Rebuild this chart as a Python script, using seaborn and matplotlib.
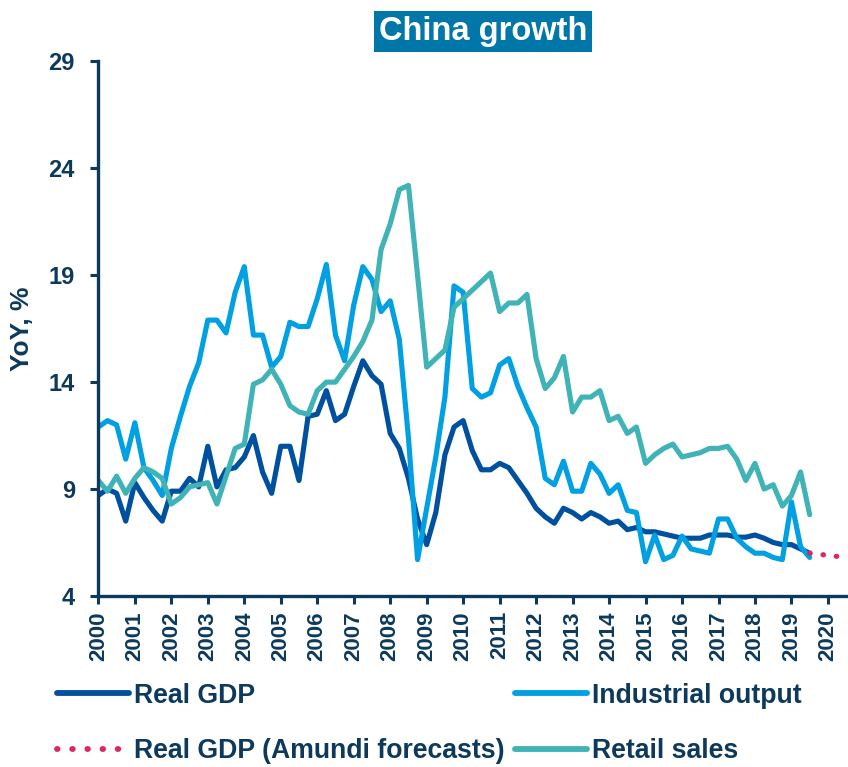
import matplotlib
matplotlib.use('Agg')
import matplotlib.pyplot as plt
import seaborn as sns
from matplotlib.lines import Line2D

# quarterly YoY growth, 2000Q1 .. 2019Q3
gdp = [8.7, 9.0, 8.8, 7.5, 9.3, 8.6, 8.0, 7.5, 8.9, 8.9, 9.5, 9.1,
       11.0, 9.1, 9.9, 10.0, 10.5, 11.5, 9.8, 8.8, 11.0, 11.0, 9.4, 12.4,
       12.5, 13.6, 12.2, 12.5, 13.8, 15.0, 14.3, 13.9, 11.6, 10.9, 9.5, 7.6,
       6.4, 7.9, 10.6, 11.9, 12.2, 10.8, 9.9, 9.9, 10.2, 10.0, 9.4, 8.8,
       8.1, 7.7, 7.4, 8.1, 7.9, 7.6, 7.9, 7.7, 7.4, 7.5, 7.1, 7.2,
       7.0, 7.0, 6.9, 6.8, 6.7, 6.7, 6.7, 6.85, 6.85, 6.85, 6.75, 6.75,
       6.85, 6.7, 6.5, 6.4, 6.4, 6.2, 6.0]
industrial = [11.9, 12.2, 12.0, 10.4, 12.1, 10.0, 9.4, 8.7, 10.9, 12.4, 13.8, 14.9,
              16.9, 16.9, 16.3, 18.2, 19.4, 16.2, 16.2, 14.7, 15.2, 16.8, 16.6, 16.6,
              17.9, 19.5, 16.2, 15.0, 17.6, 19.4, 18.8, 17.3, 17.8, 16.0, 11.4, 5.7,
              8.1, 10.5, 13.3, 18.5, 18.2, 13.7, 13.3, 13.5, 14.8, 15.1, 13.8, 12.8,
              11.9, 9.5, 9.2, 10.3, 8.9, 8.9, 10.2, 9.7, 8.8, 9.2, 8.0, 7.9,
              5.6, 6.85, 5.7, 5.9, 6.8, 6.2, 6.1, 6.0, 7.6, 7.6, 6.7, 6.3,
              6.0, 6.0, 5.8, 5.7, 8.4, 6.3, 5.8]
retail = [9.4, 8.9, 9.6, 8.8, 9.5, 10.0, 9.8, 9.5, 8.3, 8.6, 9.1, 9.2,
          9.3, 8.3, 9.6, 10.9, 11.1, 13.9, 14.1, 14.6, 13.9, 12.9, 12.6, 12.5,
          13.6, 14.0, 14.0, 14.6, 15.2, 15.9, 16.9, 20.2, 21.4, 23.0, 23.2, 19.0,
          14.7, 15.1, 15.5, 17.5, 17.9, 18.3, 18.7, 19.1, 17.3, 17.7, 17.7, 18.1,
          15.1, 13.7, 14.2, 15.2, 12.6, 13.3, 13.3, 13.6, 12.2, 12.4, 11.6, 11.9,
          10.2, 10.6, 10.9, 11.1, 10.5, 10.6, 10.7, 10.9, 10.9, 11.0, 10.4, 9.4,
          10.2, 9.0, 9.2, 8.2, 8.7, 9.8, 7.8]
forecast = [6.0, 5.95, 5.9, 5.85, 5.8, 5.75]
forecast_start = 2019.5
year_ticks = list(range(2000, 2021))
y_ticks = [4, 9, 14, 19, 24, 29]

quarters = [2000 + i / 4 for i in range(len(gdp))]
forecast_q = [forecast_start + i / 4 for i in range(len(forecast))]

navy = '#0D3A5C'
c_gdp = '#0050A0'
c_io = '#00A0E2'
c_retail = '#3FB3B6'
c_fc = '#E0245E'
dotted = (0, (0.1, 2.5))

sns.set_style('white')
plt.rcParams['font.family'] = ['Liberation Sans', 'DejaVu Sans']

fig = plt.figure(figsize=(8.48, 7.67), dpi=100)
ax = fig.add_axes([0.116, 0.223, 0.884, 0.697])

sns.lineplot(x=quarters, y=gdp, color=c_gdp, lw=3.7, ax=ax)
sns.lineplot(x=quarters, y=industrial, color=c_io, lw=3.7, ax=ax)
sns.lineplot(x=quarters, y=retail, color=c_retail, lw=3.7, ax=ax)
sns.lineplot(x=forecast_q, y=forecast, color=c_fc, lw=3.7, linestyle=dotted,
             dash_capstyle='round', ax=ax)

ax.set_xlim(2000, 2020.55)
ax.set_ylim(4, 29)
ax.set_yticks(y_ticks)
ax.set_xticks(year_ticks)
ax.set_xticklabels([str(y) for y in year_ticks], rotation=90)
ax.tick_params(axis='both', colors=navy, width=2.2, length=6, direction='out',
               left=True, bottom=True)
ax.tick_params(axis='y', labelsize=17, pad=11)
ax.tick_params(axis='x', labelsize=16, pad=5)
for lab in ax.get_xticklabels() + ax.get_yticklabels():
    lab.set_fontweight('bold')

for s in ['top', 'right']:
    ax.spines[s].set_visible(False)
for s in ['left', 'bottom']:
    ax.spines[s].set_color(navy)
    ax.spines[s].set_linewidth(2.4)

ax.set_ylabel('YoY, %', fontsize=19, fontweight='bold', color=navy)
ax.yaxis.set_label_coords(-0.086, 0.5)

fig.text(0.57, 0.959, 'China growth', ha='center', va='center', fontsize=23.5,
         fontweight='bold', color='white',
         bbox=dict(boxstyle='square,pad=0.15', facecolor='#0077A8', edgecolor='none'))

handles = [
    Line2D([], [], color=c_gdp, lw=4.2),
    Line2D([], [], color=c_fc, lw=4.2, linestyle=dotted, dash_capstyle='round'),
    Line2D([], [], color=c_io, lw=4.2),
    Line2D([], [], color=c_retail, lw=4.2),
]
labels = ['Real GDP', 'Real GDP (Amundi forecasts)', 'Industrial output', 'Retail sales']
leg = fig.legend(handles, labels, ncol=2, loc='upper left',
                 bbox_to_anchor=(0.067, 0.11), frameon=False,
                 prop={'size': 19.2, 'weight': 'bold'}, handlelength=2.7,
                 handletextpad=0.2, columnspacing=0.37, labelspacing=1.1,
                 borderpad=0, borderaxespad=0)
for t in leg.get_texts():
    t.set_color(navy)

fig.savefig('out.png', dpi=100)
